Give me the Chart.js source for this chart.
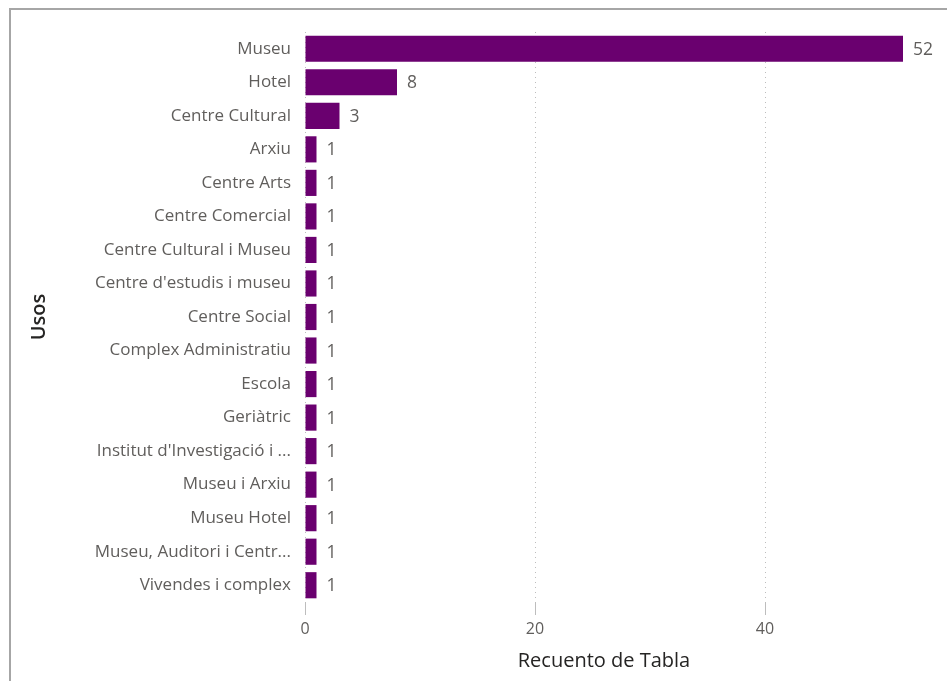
<!DOCTYPE html>
<html>
<head>
<meta charset="utf-8">
<script src="https://cdn.jsdelivr.net/npm/chart.js@4"></script>
<style>
  html, body { margin: 0; padding: 0; background: #fff; overflow: hidden; }
  #wrap { position: relative; width: 947px; height: 681px; }
  #frame { position: absolute; left: 9px; top: 8px; width: 960px; height: 700px;
           border-top: 2px solid #a6a6a6; border-left: 2px solid #a6a6a6; pointer-events: none; }
  canvas { position: absolute; left: 0; top: 0; }
</style>
</head>
<body>
<div id="wrap">
  <canvas id="usosChart" width="947" height="681"></canvas>
  <div id="frame"></div>
</div>
<script>
// data
const usos = [
  "Museu", "Hotel", "Centre Cultural", "Arxiu", "Centre Arts", "Centre Comercial",
  "Centre Cultural i Museu", "Centre d'estudis i museu", "Centre Social",
  "Complex Administratiu", "Escola", "Geriàtric", "Institut d'Investigació i ...",
  "Museu i Arxiu", "Museu Hotel", "Museu, Auditori i Centr...", "Vivendes i complex"
];
const recuento = [52, 8, 3, 1, 1, 1, 1, 1, 1, 1, 1, 1, 1, 1, 1, 1, 1];
const xTicks = [0, 20, 40];

const fontFam = "'Open Sans', 'Noto Sans', sans-serif";

// draws the count to the right of each bar
const valueLabels = {
  id: 'valueLabels',
  afterDatasetsDraw(chart) {
    const ctx = chart.ctx;
    const meta = chart.getDatasetMeta(0);
    ctx.save();
    ctx.font = "17.5px " + fontFam;
    ctx.fillStyle = "#605e5c";
    ctx.textAlign = "left";
    ctx.textBaseline = "middle";
    meta.data.forEach((bar, i) => {
      ctx.fillText(recuento[i], bar.x + 10, bar.y + 1);
    });
    ctx.restore();
  }
};

const ctx = document.getElementById('usosChart').getContext('2d');
const usosChart = new Chart(ctx, {
  type: 'bar',
  data: {
    labels: usos,
    datasets: [{
      label: 'Recuento de Tabla',
      data: recuento,
      backgroundColor: '#6a006f',
      borderWidth: 0,
      categoryPercentage: 1,
      barPercentage: 0.78
    }]
  },
  options: {
    indexAxis: 'y',
    responsive: false,
    animation: false,
    layout: { padding: { top: 32, right: 44, bottom: 0, left: 0 } },
    plugins: {
      legend: { display: false },
      tooltip: { enabled: false }
    },
    scales: {
      x: {
        min: 0,
        max: 52,
        afterBuildTicks: (axis) => { axis.ticks = xTicks.map(v => ({ value: v })); },
        afterFit: (axis) => { axis.height = 79; },
        border: { display: false, dash: [1, 4] },
        grid: {
          color: '#bdbdbd',
          lineWidth: 1,
          tickLength: 13
        },
        ticks: {
          color: '#605e5c',
          font: { family: fontFam, size: 16 },
          padding: 5
        },
        title: {
          display: true,
          text: 'Recuento de Tabla',
          color: '#252423',
          font: { family: fontFam, size: 20, weight: '500' },
          padding: { top: 2, bottom: 8 }
        }
      },
      y: {
        afterFit: (axis) => { axis.width = 305; },
        border: { display: false },
        grid: { display: false },
        ticks: {
          color: '#605e5c',
          font: { family: fontFam, size: 17 },
          padding: 6,
          autoSkip: false
        },
        title: {
          display: true,
          text: 'Usos',
          color: '#252423',
          font: { family: fontFam, size: 20, weight: '600' },
          padding: { top: 27, bottom: 0 }
        }
      }
    }
  },
  plugins: [valueLabels]
});
</script>
</body>
</html>
